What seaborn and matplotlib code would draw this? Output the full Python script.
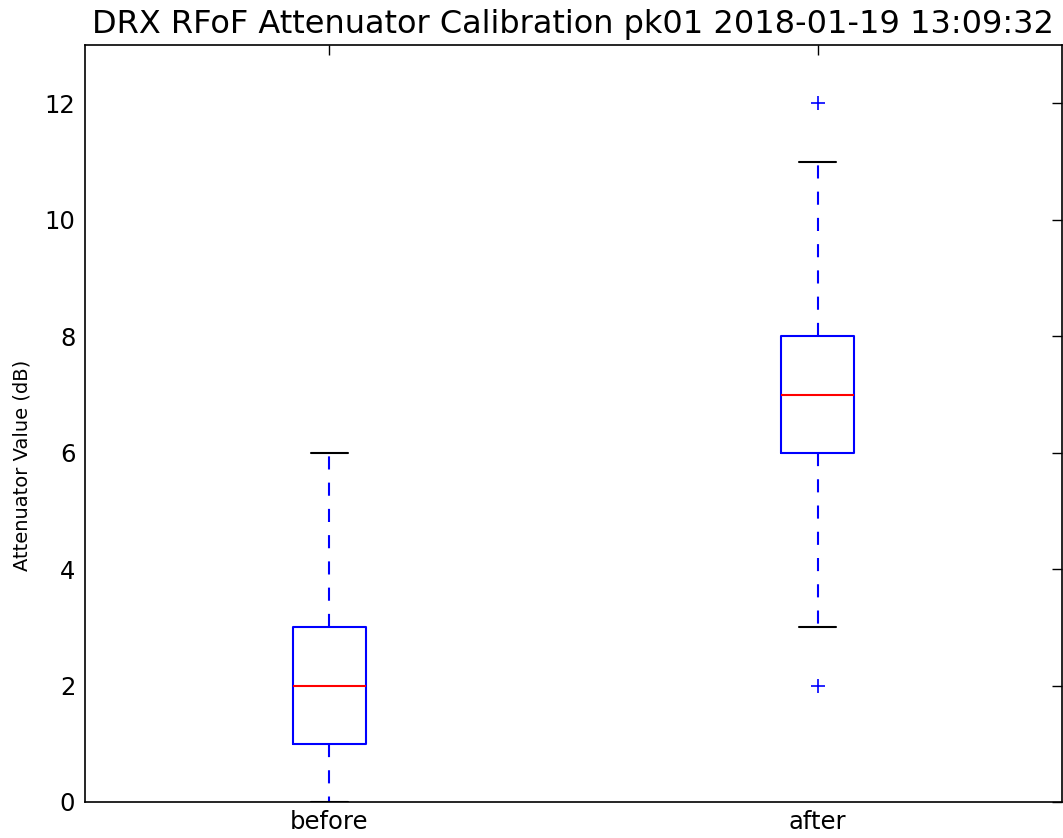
import pandas as pd
import matplotlib
matplotlib.use("Agg")
import matplotlib.pyplot as plt
import seaborn as sns

# Valores (dB)
before_values = [0, 1, 1, 1, 1, 2, 2, 2, 2, 2, 3, 3, 3, 3, 4, 5, 6]
after_values = [2, 3, 4, 5, 6, 6, 6, 6, 7, 7, 7, 7, 7, 8, 8, 8, 8, 9, 10, 11, 12]
groups = ["before", "after"]
y_ticks = [0, 2, 4, 6, 8, 10, 12]

df = pd.DataFrame({
    "grupo": ["before"] * len(before_values) + ["after"] * len(after_values),
    "valor": before_values + after_values,
})

sns.set_style("white")
plt.rcParams["font.family"] = ["DejaVu Sans"]
plt.rcParams["text.color"] = "black"
plt.rcParams["axes.labelcolor"] = "black"

fig = plt.figure(figsize=(10.63, 8.38), dpi=100)
ax = fig.add_axes([0.080, 0.043, 0.919, 0.903])

sns.boxplot(
    data=df, x="grupo", y="valor", order=groups, ax=ax,
    width=0.15, fill=False, linecolor="blue", linewidth=1.5,
    whis=1.5,
    boxprops=dict(color="blue", linewidth=1.5),
    medianprops=dict(color="red", linewidth=1.5),
    whiskerprops=dict(color="blue", linewidth=1.5, linestyle=(0, (6.3, 6.3))),
    capprops=dict(color="black", linewidth=1.5),
    flierprops=dict(marker="+", markeredgecolor="blue", markersize=10,
                    markeredgewidth=1.2, linestyle="none"),
)

ax.set_xlim(-0.5, 1.5)
ax.set_ylim(0, 13)
ax.set_yticks(y_ticks)
ax.set_title("DRX RFoF Attenuator Calibration pk01 2018-01-19 13:09:32",
             fontsize=23, color="black", pad=9)
ax.set_ylabel("Attenuator Value (dB)", fontsize=14, color="black")
ax.yaxis.set_label_coords(-0.055, 0.445)
ax.set_xlabel("")
ax.tick_params(direction="in", length=7, width=1, top=True, right=True,
               labelsize=17.5, colors="black")
ax.tick_params(axis="y", pad=7)
ax.tick_params(axis="x", pad=6)
for s in ax.spines.values():
    s.set_color("black")
    s.set_linewidth(1.2)

fig.savefig("out.png", dpi=100)
